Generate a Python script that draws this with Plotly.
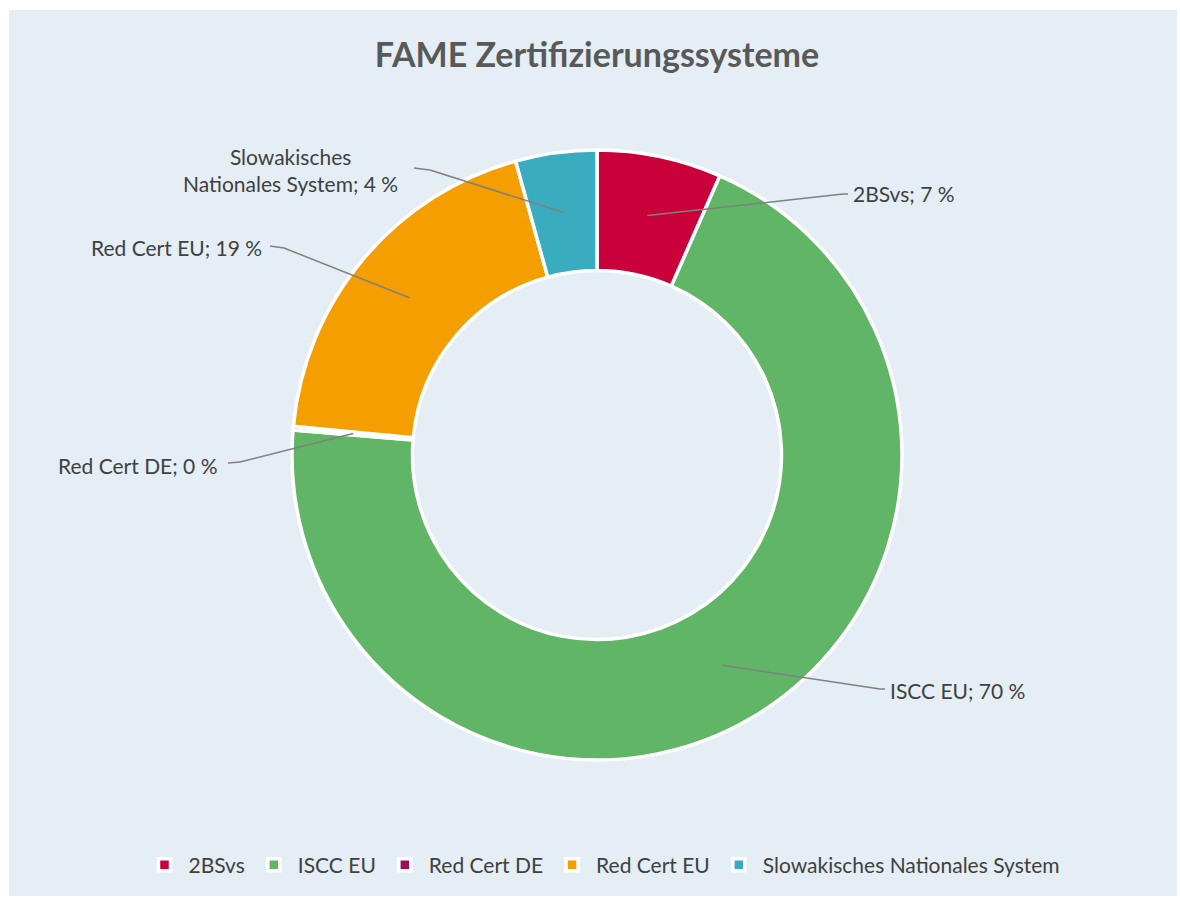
import math
import plotly.graph_objects as go

# ---- data ----
labels = ["2BSvs", "ISCC EU", "Red Cert DE", "Red Cert EU", "Slowakisches Nationales System"]
values = [6.6, 69.7, 0.2, 19.2, 4.3]
label_text = ["2BSvs; 7 %", "ISCC EU; 70 %", "Red Cert DE; 0 %", "Red Cert EU; 19 %",
              "Slowakisches<br>Nationales System; 4 %"]
colors = ["#C9003A", "#61B566", "#9A1056", "#F59E00", "#3AACBF"]

# ---- layout geometry (pixels) ----
W, H = 1180, 904
CX, CY, R = 597, 455, 305
HOLE = 0.605
RMID = R * (1 + HOLE) / 2

# label elbow / tail points and text anchors, in pixels
elbows = [(843, 194), (880, 689), (240, 462), (284, 248), (430, 170)]
tails = [(848, 194), (885, 689), (228, 463), (270, 246), (414, 168)]
anchors = [("left", 851, 194), ("left", 888, 690), ("right", 220, 465),
           ("right", 264, 248), ("right", 400, 170)]

FONT = "Lato, sans-serif"


def px(x):
    return x / W


def py(y):
    return 1 - y / H


fig = go.Figure()
fig.add_trace(go.Pie(
    labels=labels, values=values, hole=HOLE, sort=False, direction="clockwise",
    rotation=0, marker=dict(colors=colors, line=dict(color="white", width=3.5)),
    textinfo="none", hoverinfo="label+percent",
    domain=dict(x=[px(CX - R), px(CX + R)], y=[py(CY + R), py(CY - R)]),
))

shapes = [dict(type="rect", xref="paper", yref="paper", x0=px(9), x1=px(1177),
               y0=py(896), y1=py(10), fillcolor="#E5EEF4", line=dict(width=0), layer="below")]
annotations = []
total = sum(values)
cum = 0
for i, v in enumerate(values):
    mid = (cum + v / 2) / total * 2 * math.pi
    cum += v
    sx = CX + RMID * math.sin(mid)
    sy = CY - RMID * math.cos(mid)
    ex, ey = elbows[i]
    tx, ty = tails[i]
    for (a, b), (c, d) in [((sx, sy), (ex, ey)), ((ex, ey), (tx, ty))]:
        shapes.append(dict(type="line", xref="paper", yref="paper",
                           x0=px(a), y0=py(b), x1=px(c), y1=py(d),
                           line=dict(color="#808080", width=1.5)))
    xa, ax, ay = anchors[i]
    annotations.append(dict(text=label_text[i], x=px(ax), y=py(ay), xref="paper", yref="paper",
                            xanchor=xa, yanchor="middle", showarrow=False, align="center",
                            font=dict(family=FONT, size=21, color="#404040")))

fig.update_layout(
    width=W, height=H, margin=dict(l=0, r=0, t=0, b=0),
    paper_bgcolor="white", plot_bgcolor="white",
    title=dict(text="<b>FAME Zertifizierungssysteme</b>", x=px(597), xanchor="center",
               y=py(55), yanchor="middle",
               font=dict(family=FONT, size=34, color="#595959")),
    shapes=shapes, annotations=annotations,
    showlegend=True,
    legend=dict(orientation="h", x=px(603), xanchor="center", y=py(865), yanchor="middle",
                font=dict(family=FONT, size=21, color="#404040"), itemwidth=38,
                bgcolor="rgba(0,0,0,0)", traceorder="normal"),
)

fig.write_html("out.html", config={"displayModeBar": False},
               post_script="document.body.style.margin='0';")
